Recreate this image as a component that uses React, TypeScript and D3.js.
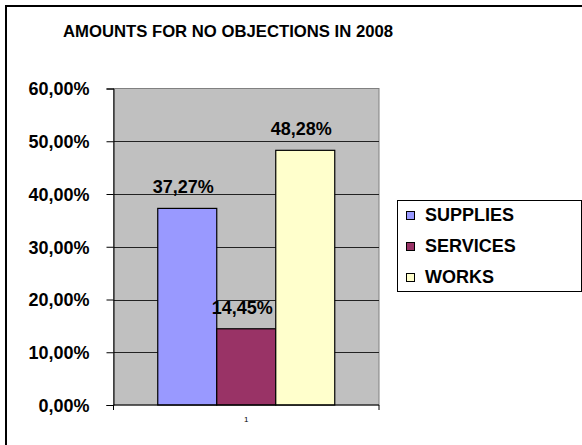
import { useEffect, useRef } from "react";
import { select, scaleLinear, scaleBand, axisLeft, axisBottom } from "d3";

const categories = ["1"];
const seriesNames = ["SUPPLIES", "SERVICES", "WORKS"];
const seriesValues = [0.3727, 0.1445, 0.4828];
const seriesColors = ["#9999ff", "#993366", "#ffffcc"];
const yTicks = [0, 0.1, 0.2, 0.3, 0.4, 0.5, 0.6];

const FONT = "'Liberation Sans', Arial, Helvetica, sans-serif";
const fmt = (v: number) => (v * 100).toFixed(2).replace(".", ",") + "%";

const App: React.FC = () => {
  const svgRef = useRef<SVGSVGElement>(null);

  useEffect(() => {
    const svg = select(svgRef.current);
    const left = 113.5, right = 379, top = 88.5, bottom = 405;

    const y: any = scaleLinear().domain([0, 0.6]).range([bottom, top]);
    const x: any = scaleBand().domain(categories).range([left, right]);
    const inner: any = scaleBand()
      .domain(seriesNames)
      .range([0, x.bandwidth()])
      .paddingInner(0)
      .paddingOuter(0.75);

    // plot area
    svg
      .select(".plot")
      .selectAll("rect")
      .data([0])
      .join("rect")
      .attr("x", left)
      .attr("y", top)
      .attr("width", right - left)
      .attr("height", bottom - top)
      .attr("fill", "#c0c0c0")
      .attr("stroke", "#808080");

    // grid lines
    svg
      .select(".grid")
      .selectAll("line")
      .data(yTicks.filter((t) => t > 0 && t < 0.6))
      .join("line")
      .attr("x1", left)
      .attr("x2", right)
      .attr("y1", (d: number) => Math.round(y(d)) + 0.5)
      .attr("y2", (d: number) => Math.round(y(d)) + 0.5)
      .attr("stroke", "#222");

    // y axis
    const yAxis: any = axisLeft(y).tickValues(yTicks).tickSize(7).tickPadding(17).tickFormat(fmt);
    const ya = svg.select(".y-axis").attr("transform", `translate(${left},0)`).call(yAxis);
    ya.select(".domain").attr("stroke", "#000");
    ya.selectAll("line").attr("stroke", "#000");
    ya.selectAll("text")
      .attr("font-family", FONT)
      .attr("font-size", 18)
      .attr("font-weight", "bold")
      .attr("fill", "#000")
      .attr("dy", "0.36em");

    // x axis
    const xAxis: any = axisBottom(x).tickSize(0).tickPadding(11);
    const xa = svg.select(".x-axis").attr("transform", `translate(0,${bottom})`).call(xAxis);
    xa.select(".domain").attr("stroke", "#000").attr("d", `M${left},5V0H${right}V5`);
    xa.selectAll("text").attr("font-family", FONT).attr("font-size", 8).attr("fill", "#000");

    // bars
    const group = svg.select(".bars");
    group
      .selectAll("rect")
      .data(seriesValues)
      .join("rect")
      .attr("x", (_: number, i: number) => x(categories[0]) + inner(seriesNames[i]))
      .attr("y", (d: number) => y(d))
      .attr("width", inner.bandwidth())
      .attr("height", (d: number) => bottom - y(d))
      .attr("fill", (_: number, i: number) => seriesColors[i])
      .attr("stroke", "#000")
      .attr("stroke-width", 1.2);

    group
      .selectAll("text")
      .data(seriesValues)
      .join("text")
      .attr("x", (_: number, i: number) => x(categories[0]) + inner(seriesNames[i]) + inner.bandwidth() / 2 - 4)
      .attr("y", (d: number) => y(d) - 15)
      .attr("text-anchor", "middle")
      .attr("font-family", FONT)
      .attr("font-size", 18)
      .attr("font-weight", "bold")
      .text((d: number) => fmt(d));

    // legend
    const legend = svg.select(".legend");
    legend
      .selectAll("rect.frame")
      .data([0])
      .join("rect")
      .attr("class", "frame")
      .attr("x", 397.5)
      .attr("y", 200.5)
      .attr("width", 184)
      .attr("height", 91)
      .attr("fill", "#fff")
      .attr("stroke", "#000");
    const items = legend
      .selectAll("g.item")
      .data(seriesNames)
      .join("g")
      .attr("class", "item")
      .attr("transform", (_: string, i: number) => `translate(406,${215 + i * 31})`);
    items
      .selectAll("rect")
      .data((_: string, i: number) => [i])
      .join("rect")
      .attr("x", 0.5)
      .attr("y", -3.5)
      .attr("width", 8)
      .attr("height", 8)
      .attr("fill", (i: number) => seriesColors[i])
      .attr("stroke", "#000");
    items
      .selectAll("text")
      .data((d: string) => [d])
      .join("text")
      .attr("x", 19)
      .attr("y", 0)
      .attr("dy", "0.36em")
      .attr("font-family", FONT)
      .attr("font-size", 18)
      .attr("font-weight", "bold")
      .text((d: string) => d);
  }, []);

  return (
    <svg
      ref={svgRef}
      width={582}
      height={445}
      style={{ position: "absolute", left: 0, top: 0, background: "#fff" }}
    >
      <rect x={6} y={6} width={600} height={460} fill="#fff" stroke="#000" strokeWidth={2} />
      <text
        x={228}
        y={37}
        textAnchor="middle"
        fontFamily={FONT}
        fontSize={16.7}
        fontWeight="bold"
      >
        AMOUNTS FOR NO OBJECTIONS IN 2008
      </text>
      <g className="plot" />
      <g className="grid" />
      <g className="bars" />
      <g className="y-axis" />
      <g className="x-axis" />
      <g className="legend" />
    </svg>
  );
};

export default App;
